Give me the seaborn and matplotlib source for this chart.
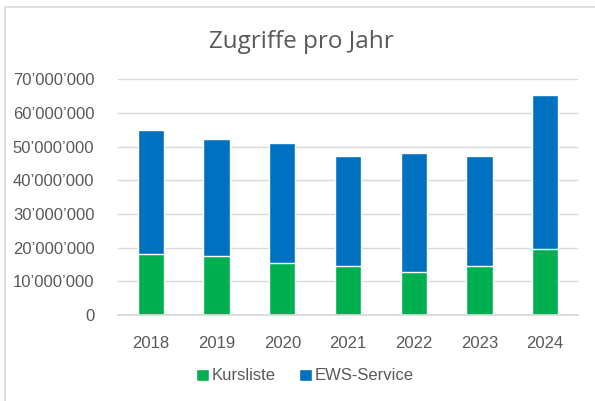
import matplotlib
matplotlib.use("Agg")
import matplotlib.pyplot as plt
import seaborn as sns
import pandas as pd
import numpy as np
from matplotlib.patches import Rectangle
from matplotlib.ticker import FuncFormatter

years = ["2018", "2019", "2020", "2021", "2022", "2023", "2024"]
kursliste = [18.0e6, 17.5e6, 15.3e6, 14.6e6, 12.9e6, 14.6e6, 19.7e6]
ews_service = [37.0e6, 34.9e6, 35.7e6, 32.5e6, 35.1e6, 32.5e6, 45.7e6]
series_names = ["Kursliste", "EWS-Service"]
colors = ["#00B050", "#0070C0"]

sns.set_theme(style="white")
plt.rcParams['font.family'] = ['Liberation Sans', 'DejaVu Sans']

df = pd.DataFrame({"Jahr": years, "Kursliste": kursliste, "EWS-Service": ews_service})
df["Total"] = df["Kursliste"] + df["EWS-Service"]

fig = plt.figure(figsize=(5.95, 4.01), dpi=100)
ax = fig.add_axes([118/595, 1 - 315/401, 460/595, (315 - 79.3)/401])

sns.barplot(data=df, x="Jahr", y="Total", color=colors[1], width=0.4, ax=ax,
            label=series_names[1], saturation=1)
sns.barplot(data=df, x="Jahr", y="Kursliste", color=colors[0], width=0.4, ax=ax,
            label=series_names[0], saturation=1)
if ax.get_legend() is not None:
    ax.get_legend().remove()

ax.set_ylim(0, 70e6)
ax.set_xlim(-0.5, 6.5)
ax.set_yticks(np.arange(0, 70e6 + 1, 10e6))

def fmt(v, pos):
    s = f"{int(round(v)):,}".replace(",", "\u2019")
    return s
ax.yaxis.set_major_formatter(FuncFormatter(fmt))
ax.set_xlabel("")
ax.set_ylabel("")
ax.grid(axis="y", color="#d9d9d9", linewidth=1)
ax.set_axisbelow(True)
for s in ["top", "right", "left"]:
    ax.spines[s].set_visible(False)
ax.spines["bottom"].set_color("#d9d9d9")
ax.tick_params(axis="both", length=0, labelsize=12, colors="#595959")
ax.tick_params(axis="y", pad=17)
ax.tick_params(axis="x", pad=15)

fig.text(301/595, 1 - 42/401, "Zugriffe pro Jahr", ha="center", va="center",
         fontsize=17.5, color="#595959", family=["Open Sans", "DejaVu Sans"])

handles, labels = ax.get_legend_handles_labels()
order = [labels.index(n) for n in series_names]
leg = fig.legend([handles[i] for i in order], [labels[i] for i in order],
                 loc="center", bbox_to_anchor=(305/595, 1 - 376/401), ncol=2,
                 frameon=False, fontsize=12, handlelength=0.75, handleheight=0.75,
                 handletextpad=0.2, columnspacing=1.4, labelcolor="#595959")

fig.patches.append(Rectangle((5/595, -0.1), 1.2, 1.1 - 7/401,
                             transform=fig.transFigure, fill=False,
                             edgecolor="#d9d9d9", linewidth=1.2))

fig.savefig("out.png", dpi=100)
